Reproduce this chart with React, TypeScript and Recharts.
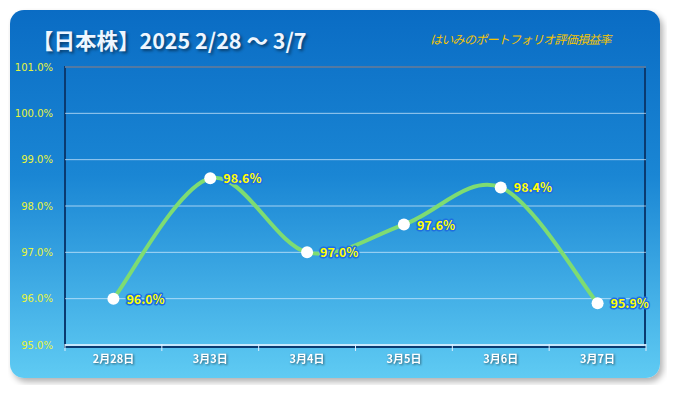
import React from 'react';
import { LineChart, Line, XAxis, YAxis, CartesianGrid, LabelList } from 'recharts';

const categories = ['2月28日', '3月3日', '3月4日', '3月5日', '3月6日', '3月7日'];
const values = [96.0, 98.6, 97.0, 97.6, 98.4, 95.9];
const yTicks = [95, 96, 97, 98, 99, 100, 101];

const data = categories.map((name, i) => ({ name, x: i + 0.5, value: values[i] }));

const xTicks: number[] = [];
for (let i = 0; i <= categories.length * 2; i++) xTicks.push(i / 2);

const jp = '"Noto Sans CJK JP", "Noto Sans", sans-serif';

// Catmull-Rom style smoothing, similar to a spreadsheet "smoothed line"
const smoothCurve = (context: any) => {
  let pts: number[][] = [];
  return {
    areaStart() {},
    areaEnd() {},
    lineStart() {
      pts = [];
    },
    point(x: number, y: number) {
      pts.push([+x, +y]);
    },
    lineEnd() {
      if (!pts.length) return;
      context.moveTo(pts[0][0], pts[0][1]);
      for (let i = 0; i < pts.length - 1; i++) {
        const p0 = pts[i - 1] || pts[i];
        const p1 = pts[i];
        const p2 = pts[i + 1];
        const p3 = pts[i + 2] || p2;
        context.bezierCurveTo(
          p1[0] + (p2[0] - p0[0]) / 6,
          p1[1] + (p2[1] - p0[1]) / 6,
          p2[0] - (p3[0] - p1[0]) / 6,
          p2[1] - (p3[1] - p1[1]) / 6,
          p2[0],
          p2[1]
        );
      }
    },
  };
};

const XTick = (props: any) => {
  const { x, payload } = props;
  const axisY = 335;
  const v = payload.value;
  if (Number.isInteger(v)) {
    return <line x1={x} y1={axisY - 1} x2={x} y2={axisY + 6} stroke="#dcefff" strokeWidth={1} />;
  }
  const label = categories[Math.floor(v)];
  return (
    <text
      x={x}
      y={axisY + 18}
      textAnchor="middle"
      fill="#ffffff"
      fontSize={11}
      fontWeight="bold"
      fontFamily={jp}
      style={{ filter: 'drop-shadow(1px 1px 1px rgba(0,0,0,0.5))' }}
    >
      {label}
    </text>
  );
};

const ValueLabel = (props: any) => {
  const { x, y, value } = props;
  return (
    <text
      x={x + 13}
      y={y + 5}
      fill="#ffff00"
      fontSize={12.5}
      fontWeight="bold"
      fontFamily={jp}
      stroke="#1f6fe0"
      strokeWidth={3}
      paintOrder="stroke"
      strokeLinejoin="round"
    >
      {value.toFixed(1)}%
    </text>
  );
};

const App = () => {
  return (
    <div style={{ position: 'relative', width: 675, height: 393, margin: -8 }}>
      <div
        style={{
          position: 'absolute',
          left: 10,
          top: 10,
          width: 650,
          height: 368,
          borderRadius: 14,
          background: 'linear-gradient(to bottom, #0a6cc4 0%, #1a86d4 45%, #5fcbf3 100%)',
          boxShadow: '3px 4px 6px rgba(0,0,0,0.3)',
        }}
      />
      <div
        style={{
          position: 'absolute',
          left: 32,
          top: 24,
          color: '#eef6ff',
          fontFamily: jp,
          fontSize: 21.5,
          fontWeight: 'bold',
          textShadow: '2px 2px 3px rgba(0,0,0,0.45)',
          whiteSpace: 'nowrap',
        }}
      >
        【日本株】2025 2/28 〜 3/7
      </div>
      <div
        style={{
          position: 'absolute',
          left: 430,
          top: 30,
          color: '#f5c400',
          fontFamily: jp,
          fontSize: 12,
          fontStyle: 'italic',
          whiteSpace: 'nowrap',
          letterSpacing: -0.7,
        }}
      >
        はいみのポートフォリオ評価損益率
      </div>
      <div
        style={{
          position: 'absolute',
          left: 64,
          top: 66,
          width: 582,
          height: 282,
          border: '2px solid #0a3a70',
          boxSizing: 'border-box',
        }}
      />
      <div style={{ position: 'absolute', left: 10, top: 10 }}>
        <LineChart width={650} height={368} data={data} margin={{ top: 57, right: 14, bottom: 0, left: 5 }}>
          <CartesianGrid vertical={false} stroke="rgba(220,240,255,0.7)" />
          <XAxis
            dataKey="x"
            type="number"
            domain={[0, 6]}
            ticks={xTicks}
            interval={0}
            tickLine={false}
            axisLine={{ stroke: '#dcefff', strokeWidth: 1.5 }}
            tick={<XTick />}
            height={33}
          />
          <YAxis
            domain={[95, 101]}
            ticks={yTicks}
            width={50}
            axisLine={false}
            tickLine={false}
            tickMargin={6}
            tick={{ fill: '#e8f53a', fontSize: 10, fontFamily: '"DejaVu Sans", sans-serif' }}
            tickFormatter={(v: number) => `${v.toFixed(1)}%`}
          />
          <Line
            type={smoothCurve as any}
            dataKey="value"
            stroke="#7edc72"
            strokeWidth={4}
            dot={{ r: 6, fill: '#ffffff', stroke: '#ffffff', strokeWidth: 0 }}
            isAnimationActive={false}
          >
            <LabelList dataKey="value" content={<ValueLabel />} />
          </Line>
        </LineChart>
      </div>
    </div>
  );
};

export default App;
